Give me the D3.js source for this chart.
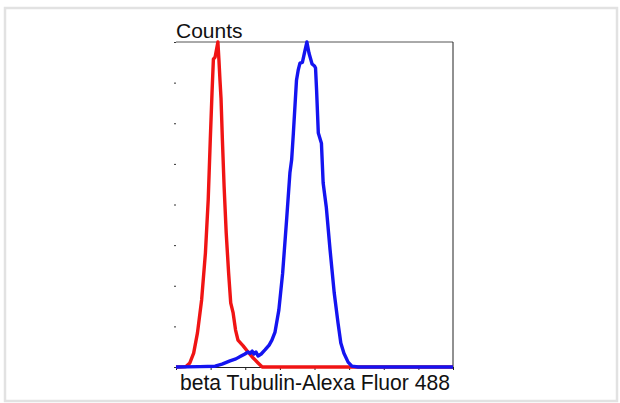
<!DOCTYPE html>
<html>
<head>
<meta charset="utf-8">
<script src="https://cdn.jsdelivr.net/npm/d3@7"></script>
<style>
  body { margin: 0; background: #fff; }
  svg { display: block; }
  text { font-family: "Liberation Sans", Arial, sans-serif; fill: #111; }
</style>
</head>
<body>
<svg id="chart" width="620" height="403"></svg>
<script>
// Eixos em unidades relativas (8 divisões em x, contagens em y)
const xTicks = [0, 1, 2, 3, 4, 5, 6, 7, 8];
const yTicks = [0, 100, 200, 300, 400, 500, 600, 700, 800];
const xTitle = "beta Tubulin-Alexa Fluor 488";
const yTitle = "Counts";

// Controle (vermelho)
const controlX = [0, 0.29, 0.40, 0.51, 0.62, 0.74, 0.85, 0.93, 0.99, 1.04, 1.08, 1.13, 1.21, 1.24, 1.27, 1.30, 1.34, 1.39, 1.45, 1.52, 1.58, 1.65, 1.72, 1.79, 1.94, 2.08, 2.23, 2.37, 2.49, 8];
const controlY = [0, 1, 10, 34, 84, 165, 281, 411, 559, 674, 758, 763, 800, 756, 706, 662, 559, 443, 330, 231, 158, 133, 91, 66, 52, 37, 22, 10, 0, 0];

// Amostra marcada (azul)
const sampleX = [0, 0.69, 1.13, 1.33, 1.56, 1.73, 1.88, 1.99, 2.08, 2.14, 2.20, 2.25, 2.31, 2.37, 2.46, 2.57, 2.69, 2.77, 2.86, 2.97, 3.08, 3.20, 3.29, 3.34, 3.39, 3.48, 3.53, 3.58, 3.65, 3.71, 3.78, 3.84, 3.93, 4.00, 4.03, 4.06, 4.11, 4.20, 4.25, 4.34, 4.45, 4.57, 4.68, 4.76, 4.85, 4.97, 5.08, 5.26, 8];
const sampleY = [0, 1, 2, 7, 15, 20, 27, 32, 37, 34, 39, 32, 37, 27, 32, 42, 54, 66, 86, 140, 231, 369, 478, 510, 576, 706, 731, 748, 750, 773, 800, 773, 746, 741, 736, 682, 576, 551, 453, 394, 288, 182, 108, 59, 34, 12, 2, 0, 0];

const svg = d3.select("#chart");
const plot = {left: 176, right: 453, top: 42, bottom: 367};

// Moldura cinza externa
svg.append("rect")
    .attr("x", 5).attr("y", 8)
    .attr("width", 612).attr("height", 393)
    .attr("fill", "none")
    .attr("stroke", "#e2e2e2")
    .attr("stroke-width", 2.5);

const x = d3.scaleLinear().domain([0, 8]).range([plot.left, plot.right]);
const y = d3.scaleLinear().domain([0, 800]).range([plot.bottom, plot.top]);

// Eixo y: só os traços pequenos, sem linha
const yAxis = svg.append("g")
    .attr("transform", `translate(${plot.left},0)`)
    .call(d3.axisLeft(y).tickValues(yTicks).tickSize(2).tickSizeOuter(0).tickFormat(""));
yAxis.select(".domain").remove();
yAxis.selectAll("line").attr("stroke", "#333");

// Linha de cima e da direita
svg.append("line")
    .attr("x1", plot.left).attr("x2", plot.right)
    .attr("y1", plot.top).attr("y2", plot.top)
    .attr("stroke", "#555");
svg.append("line")
    .attr("x1", plot.right).attr("x2", plot.right)
    .attr("y1", plot.top).attr("y2", plot.bottom)
    .attr("stroke", "#222");

// Eixo x
const xAxis = svg.append("g")
    .attr("transform", `translate(0,${plot.bottom})`)
    .call(d3.axisBottom(x).tickValues(xTicks).tickSize(3).tickSizeOuter(0).tickFormat(""));
xAxis.selectAll("line, path").attr("stroke", "#222");

const line = d3.line()
    .x(d => x(d[0]))
    .y(d => y(d[1]));

svg.append("path")
    .datum(d3.zip(controlX, controlY))
    .attr("d", line)
    .attr("fill", "none")
    .attr("stroke", "#f01414")
    .attr("stroke-width", 3.4)
    .attr("stroke-linejoin", "round");

svg.append("path")
    .datum(d3.zip(sampleX, sampleY))
    .attr("d", line)
    .attr("fill", "none")
    .attr("stroke", "#1414f0")
    .attr("stroke-width", 3.4)
    .attr("stroke-linejoin", "round");

// Títulos
svg.append("text")
    .attr("x", plot.left)
    .attr("y", 38)
    .attr("font-size", 21)
    .text(yTitle);

svg.append("text")
    .attr("x", 180)
    .attr("y", 390)
    .attr("font-size", 22)
    .attr("textLength", 270)
    .attr("lengthAdjust", "spacingAndGlyphs")
    .text(xTitle);
</script>
</body>
</html>
